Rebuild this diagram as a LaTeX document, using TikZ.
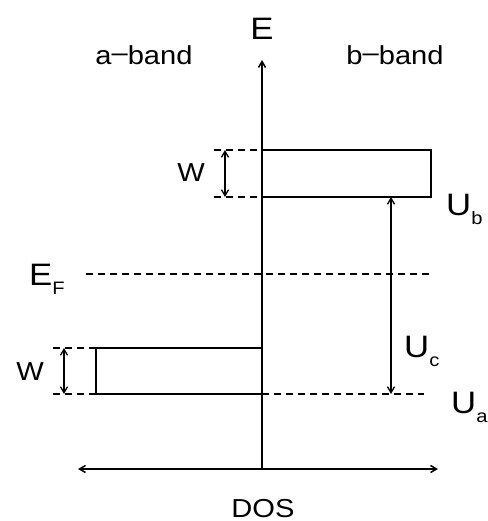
\documentclass[tikz,border=0pt]{standalone}
\usepackage{fontspec}
\setmainfont[FakeStretch=1.12]{Liberation Sans}
\usetikzlibrary{arrows.meta,positioning}
\newcommand{\sub}[1]{\raisebox{-9pt}{\fontsize{18}{18}\selectfont #1}}

\begin{document}
\begin{tikzpicture}[
  x=1pt, y=-1pt, >={Straight Barb[length=6pt,width=7pt]},
  lbl/.style={font=\fontsize{26}{30}\selectfont, inner sep=0pt, anchor=base},
  big/.style={font=\fontsize{31}{34}\selectfont, inner sep=0pt, anchor=base west},
  band/.style={draw, line width=1.6pt},
  lvl/.style={dashed, dash pattern=on 7pt off 5pt, line width=1.4pt},
  ax/.style={<->, line width=1.5pt},
  dim/.style={<->, line width=1.3pt},
]
\useasboundingbox (0,0) rectangle (487,521);
% axes
\coordinate (o) at (262,469);
\coordinate (etop) at (262,60);
\coordinate (dl) at (78,469);
\coordinate (dr) at (438,469);
\draw[->, line width=1.5pt] (o) -- (etop);
\draw[ax] (dl) -- (dr);
\node[big, anchor=base] (elab) at (262,40) {E};
\node[lbl] (dos) at (263,517) {DOS};
\node[lbl] (aband) at (144,65) {a\raisebox{0.25ex}{--}band};
\node[lbl] (bband) at (395,65) {b\raisebox{0.25ex}{--}band};
% b-band
\coordinate (bt) at (262,150);
\coordinate (bb) at (262,197);
\coordinate (bbr) at (431,197);
\draw[band] (bt) rectangle (bbr);
\coordinate (wbl) at (214,150);
\coordinate (wbb) at (214,197);
\draw[lvl] (wbl) -- (bt);
\draw[lvl] (wbb) -- (bb);
\coordinate (wbu) at (225,150);
\coordinate (wbd) at (225,197);
\draw[dim] (wbu) -- (wbd);
\node[lbl] (wb) at (191,182) {W};
\node[big] (ub) at (446,215) {U\sub{b}};
% Fermi level
\coordinate (fl) at (86,274);
\coordinate (fr) at (432,274);
\draw[lvl] (fl) -- (fr);
\node[big] (ef) at (29,285) {E\sub{F}};
% a-band
\coordinate (aat) at (96,348);
\coordinate (aab) at (96,394);
\coordinate (abr) at (262,394);
\draw[band] (aat) rectangle (abr);
\coordinate (wat) at (53,348);
\coordinate (wab) at (53,394);
\draw[lvl] (wat) -- (aat);
\draw[lvl] (wab) -- (aab);
\coordinate (wau) at (64,348);
\coordinate (wad) at (64,394);
\draw[dim] (wau) -- (wad);
\node[lbl] (wa) at (30,380) {W};
\coordinate (ar) at (424,394);
\draw[lvl] (abr) -- (ar);
\node[big] (ua) at (451,413) {U\sub{a}};
% U_c
\coordinate (uct) at (391,197);
\coordinate (ucb) at (391,394);
\draw[dim] (ucb) -- (uct);
\node[big] (uc) at (404,357) {U\sub{c}};
\end{tikzpicture}
\end{document}
